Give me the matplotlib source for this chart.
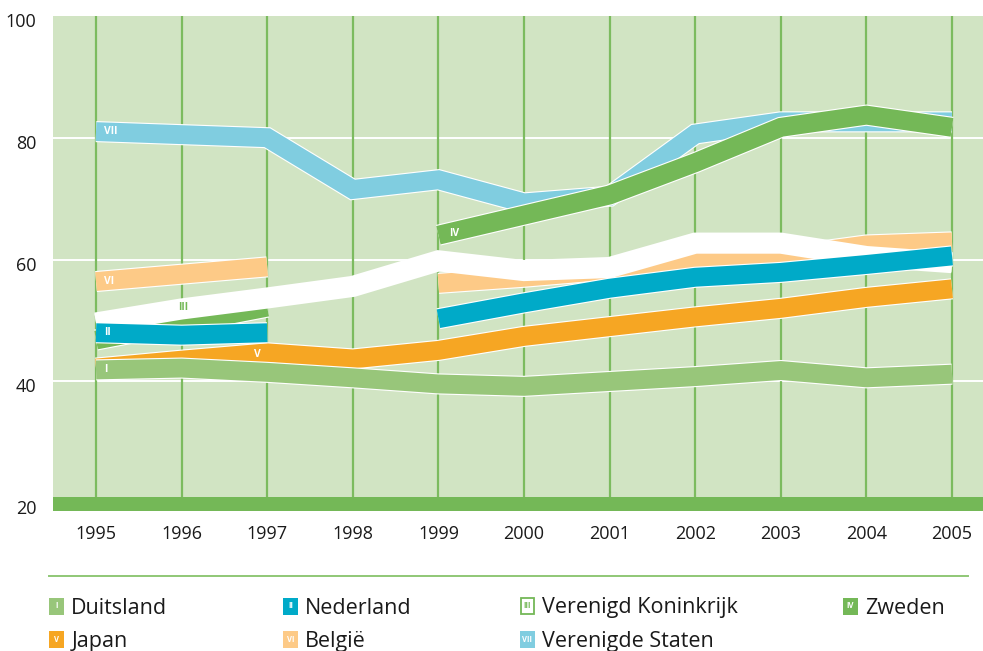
import numpy as np
import matplotlib
matplotlib.use("Agg")
import matplotlib.pyplot as plt
import matplotlib.patheffects as pe
import matplotlib.transforms as mtransforms
from matplotlib.patches import Rectangle
from matplotlib.lines import Line2D

plt.rcParams['font.family'] = ['Open Sans', 'DejaVu Sans']

years = [1995, 1996, 1997, 1998, 1999, 2000, 2001, 2002, 2003, 2004, 2005]
nan = np.nan

duitsland = [41.9, 42.2, 41.5, 40.6, 39.6, 39.2, 40.0, 40.8, 41.8, 40.6, 41.2]
nederland = [48.0, 47.6, 48.0, nan, 50.3, 52.9, 55.3, 57.1, 57.9, 59.2, 60.6]
ver_koninkrijk = [49.6, 51.9, 53.7, 55.6, 59.8, 58.2, 58.7, 62.7, 62.7, 60.5, 59.5]
zweden = [46.8, 49.5, 52.2, nan, 64.0, 67.3, 70.6, 75.9, 81.7, 83.7, 81.7]
japan = [42.2, 43.5, 44.7, 43.7, 45.1, 47.4, 49.0, 50.6, 52.0, 53.8, 55.2]
belgie = [56.4, 57.6, 58.8, nan, 56.1, 57.1, 58.3, 60.3, 60.5, 62.4, 62.9]
ver_staten = [81.0, 80.5, 80.0, 71.5, 73.1, 69.3, 70.4, 80.6, 82.6, 82.6, 82.6]

names = ["Duitsland", "Nederland", "Verenigd Koninkrijk", "Zweden",
         "Japan", "België", "Verenigde Staten"]
numerals = ["I", "II", "III", "IV", "V", "VI", "VII"]
yticks = [20, 40, 60, 80, 100]

C_BG = '#d1e4c3'
C_GRID = '#7cbb5f'
C_BAR = '#74b857'
colors = {
    "I": '#98c67a', "II": '#00aac8', "III": '#ffffff', "IV": '#74b857',
    "V": '#f6a623', "VI": '#fdca87', "VII": '#80cde0',
}

W, H = 983, 651
fig = plt.figure(figsize=(W / 100, H / 100), dpi=100)

def fx(px):
    return px / W

def fy(py):
    return 1 - py / H

ax_l, ax_r, ax_t, ax_b = 53.3, 983, 15.8, 510.7
ax = fig.add_axes([fx(ax_l), fy(ax_b), fx(ax_r - ax_l), (ax_b - ax_t) / H])
ax.set_facecolor(C_BG)
ax.set_xlim(1994.501, 2005.362)
ax.set_ylim(18.8, 100.0)
for s in ax.spines.values():
    s.set_visible(False)

# gridlines
for v in [40, 60, 80]:
    ax.axhline(v, color='white', lw=1.4, zorder=1)
for yr in years:
    ax.axvline(yr, color=C_GRID, lw=1.6, zorder=1.2)
ax.axhspan(18.8, 21.0, color=C_BAR, zorder=1.5, lw=0)

series = [
    ("VII", ver_staten, 2),
    ("VI", belgie, 3),
    ("IV", zweden, 4),
    ("III", ver_koninkrijk, 5),
    ("V", japan, 6),
    ("II", nederland, 7),
    ("I", duitsland, 8),
]
LW = 13.6
for key, vals, z in series:
    ax.plot(years, vals, color=colors[key], lw=LW, solid_capstyle='butt',
            solid_joinstyle='miter', zorder=z,
            path_effects=[pe.Stroke(linewidth=LW + 1.6, foreground='white',
                                    capstyle='butt', joinstyle='miter'),
                          pe.Normal()])

# labels on bands
lab_kw = dict(fontsize=7.5, fontweight='bold', va='center', zorder=20)
ax.text(1995.09, 81.0, "VII", color='white', ha='left', **lab_kw)
ax.text(1995.09, 56.4, "VI", color='white', ha='left', **lab_kw)
ax.text(1995.09, 48.0, "II", color='white', ha='left', **lab_kw)
ax.text(1995.09, 41.9, "I", color='white', ha='left', **lab_kw)
ax.text(1996.02, 52.2, "III", color=C_BAR, ha='center', **lab_kw)
ax.text(1999.12, 64.2, "IV", color='white', ha='left', **lab_kw)
ax.text(1996.88, 44.5, "V", color='white', ha='center', **lab_kw)

ax.set_xticks(years)
ax.set_xticklabels([str(y) for y in years], fontsize=13, color='#1a1a1a')
ax.set_yticks(yticks)
ax.set_yticklabels([str(v) for v in yticks], fontsize=13, color='#1a1a1a')
ax.tick_params(axis='both', length=0)
ax.tick_params(axis='x', pad=10.5)
ax.tick_params(axis='y', pad=12)
offset = mtransforms.ScaledTranslation(0, -4 / 100, fig.dpi_scale_trans)
for lbl in ax.get_yticklabels():
    lbl.set_transform(lbl.get_transform() + offset)

# legend separator
fig.add_artist(Line2D([fx(49.3), fx(968)], [fy(575.7), fy(575.7)],
                      color='#8fc776', lw=1.4))

cols_x = [49.3, 283, 520, 843]
rows_y = [606, 639]
bw, bh = 15, 17
for i, (num, name) in enumerate(zip(numerals, names)):
    r, c = divmod(i, 4)
    x0 = cols_x[c]
    yc = rows_y[r]
    col = colors[num]
    if num == "III":
        rect = Rectangle((fx(x0 + 0.7), fy(yc + bh / 2 - 0.7)), (bw - 1.4) / W, (bh - 1.4) / H,
                         facecolor='white', edgecolor=C_BAR, lw=1.3,
                         transform=fig.transFigure)
        tcol = C_BAR
    else:
        rect = Rectangle((fx(x0), fy(yc + bh / 2)), bw / W, bh / H,
                         facecolor=col, edgecolor='none', transform=fig.transFigure)
        tcol = 'white'
    fig.add_artist(rect)
    fig.text(fx(x0 + bw / 2), fy(yc), num, color=tcol, fontsize=5.5,
             fontweight='bold', ha='center', va='center')
    fig.text(fx(x0 + 22), fy(yc + 2), name, fontsize=15.5, color='#1a1a1a',
             ha='left', va='center')

fig.savefig("out.png", dpi=100)
